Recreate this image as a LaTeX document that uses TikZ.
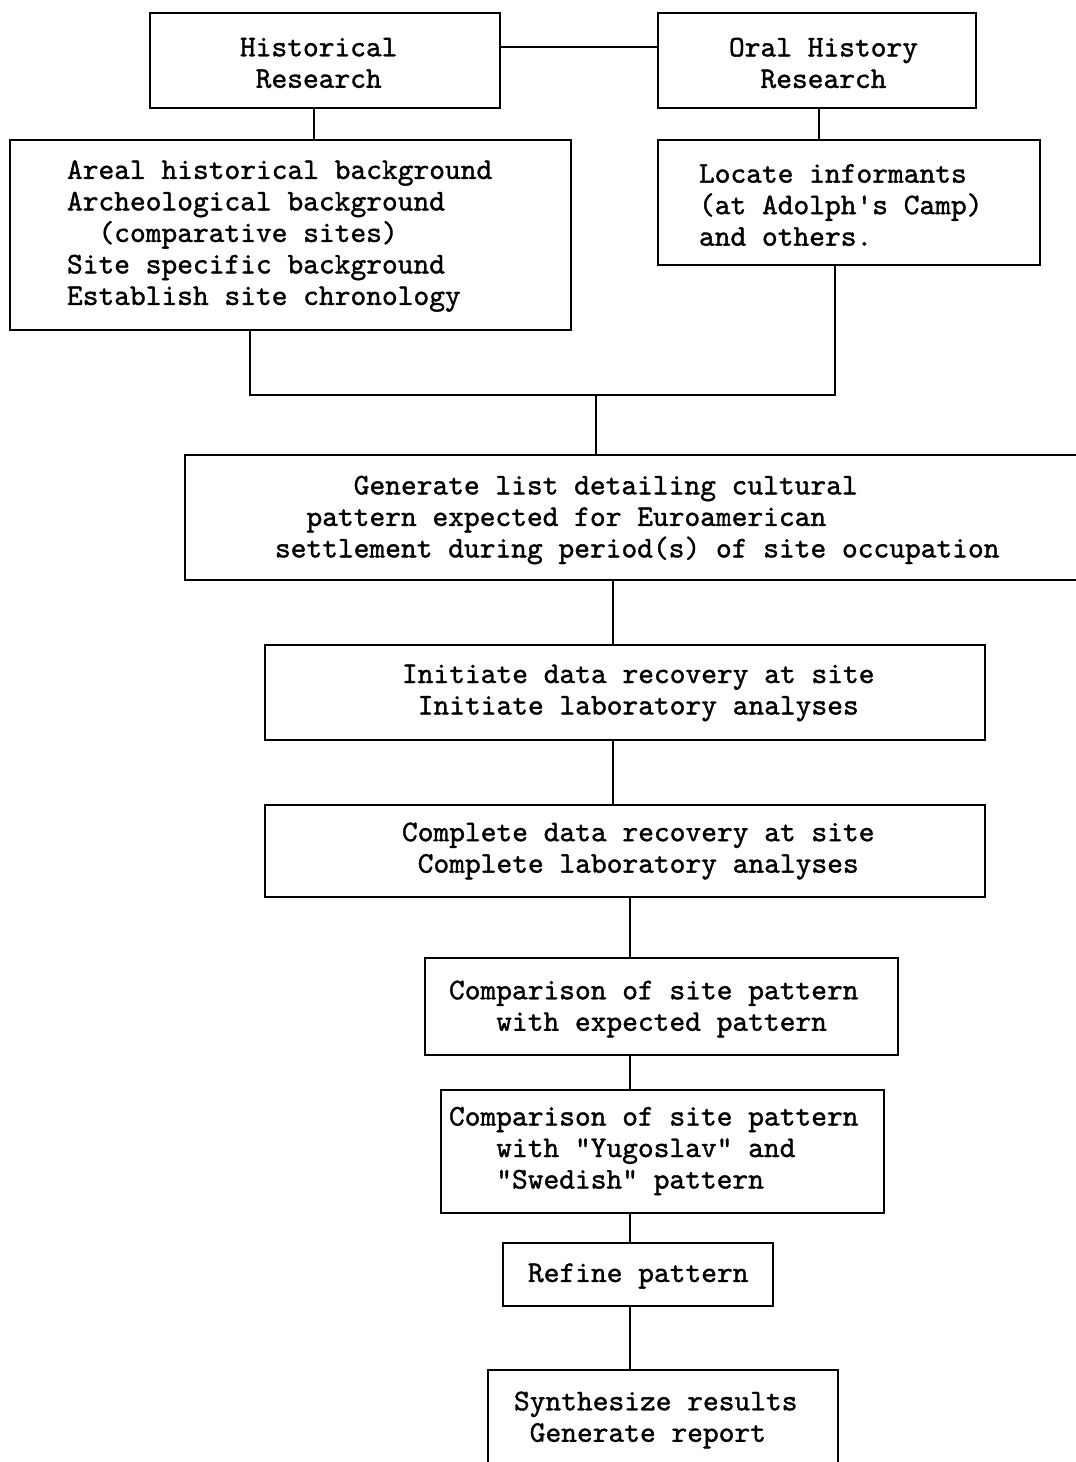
\documentclass[tikz,border=0pt]{standalone}
\usepackage{fontspec}
\newfontfamily\tw{lmmono10-regular.otf}[FakeBold=1.2]
\newcommand\ind[1]{\hspace*{#1\dimexpr 0.525em\relax}}
\tikzset{
  box/.style={draw, line width=2.2pt, inner sep=0pt, outer sep=0pt},
  txt/.style={inner sep=0pt, outer sep=0pt, align=left, anchor=west,
    font=\tw\fontsize{30}{31.5}\selectfont},
  link/.style={line width=2pt}
}
\newcommand\mkbox[5]{\node[box, minimum width={#4-#2}, minimum height={#5-#3}] (#1) at ({(#2+#4)/2},{(#3+#5)/2}) {};}
\begin{document}
\begin{tikzpicture}[x=1pt,y=-1pt]
\useasboundingbox (0,0) rectangle (1076,1462);
\fill[white] (0,0) rectangle (1076,1462);
\clip (0,0) rectangle (1076,1462);
% boxes
\mkbox{hist}{150}{13}{500}{108}
\mkbox{oral}{658}{13}{976}{108}
\mkbox{areal}{10}{140}{571}{330}
\mkbox{locate}{658}{140}{1040}{265}
\mkbox{gen}{185}{455}{1095}{580}
\mkbox{init}{265}{645}{985}{740}
\mkbox{compl}{265}{805}{985}{897}
\mkbox{cmpa}{425}{958}{898}{1055}
\mkbox{cmpb}{441}{1090}{884}{1213}
\mkbox{refine}{503}{1243}{773}{1306}
\mkbox{synth}{488}{1370}{838}{1480}
% texts
\node[txt] (histT) at (240,63) {Historical\\\ind{1}Research};
\node[txt] (oralT) at (729,63) {Oral History\\\ind{2}Research};
\node[txt] (arealT) at (67,236) {Areal historical background\\Archeological background\\\ind{2}(comparative sites)\\Site specific background\\Establish site chronology};
\node[txt] (locateT) at (699,205) {Locate informants\\(at Adolph's Camp)\\and others.};
\node[txt] (genT) at (275,520) {\ind{5}Generate list detailing cultural\\\ind{2}pattern expected for Euroamerican\\settlement during period(s) of site occupation};
\node[txt] (initT) at (402,693) {Initiate data recovery at site\\\ind{1}Initiate laboratory analyses};
\node[txt] (complT) at (402,851) {Complete data recovery at site\\\ind{1}Complete laboratory analyses};
\node[txt] (cmpaT) at (449,1009) {Comparison of site pattern\\\ind{3}with expected pattern};
\node[txt] (cmpbT) at (449,1151) {Comparison of site pattern\\\ind{3}with "Yugoslav" and\\\ind{3}"Swedish" pattern};
\node[txt] (refineT) at (528,1276) {Refine pattern};
\node[txt] (synthT) at (514,1420) {Synthesize results\\\ind{1}Generate report};
% connectors
\coordinate (hy) at (0,47);
\coordinate (hx) at (314,0);
\coordinate (ox) at (819,0);
\coordinate (ax) at (250,0);
\coordinate (lx) at (835,0);
\coordinate (j) at (596,395);
\coordinate (gx) at (613,0);
\coordinate (cx) at (630,0);
\draw[link] (hist.east |- hy) -- (oral.west |- hy);
\draw[link] (hist.south -| hx) -- (areal.north -| hx);
\draw[link] (oral.south -| ox) -- (locate.north -| ox);
\draw[link] (areal.south -| ax) |- (j) -| (locate.south -| lx);
\draw[link] (j) -- (gen.north -| j);
\draw[link] (gen.south -| gx) -- (init.north -| gx);
\draw[link] (init.south -| gx) -- (compl.north -| gx);
\draw[link] (compl.south -| cx) -- (cmpa.north -| cx);
\draw[link] (cmpa.south -| cx) -- (cmpb.north -| cx);
\draw[link] (cmpb.south -| cx) -- (refine.north -| cx);
\draw[link] (refine.south -| cx) -- (synth.north -| cx);
\end{tikzpicture}
\end{document}
